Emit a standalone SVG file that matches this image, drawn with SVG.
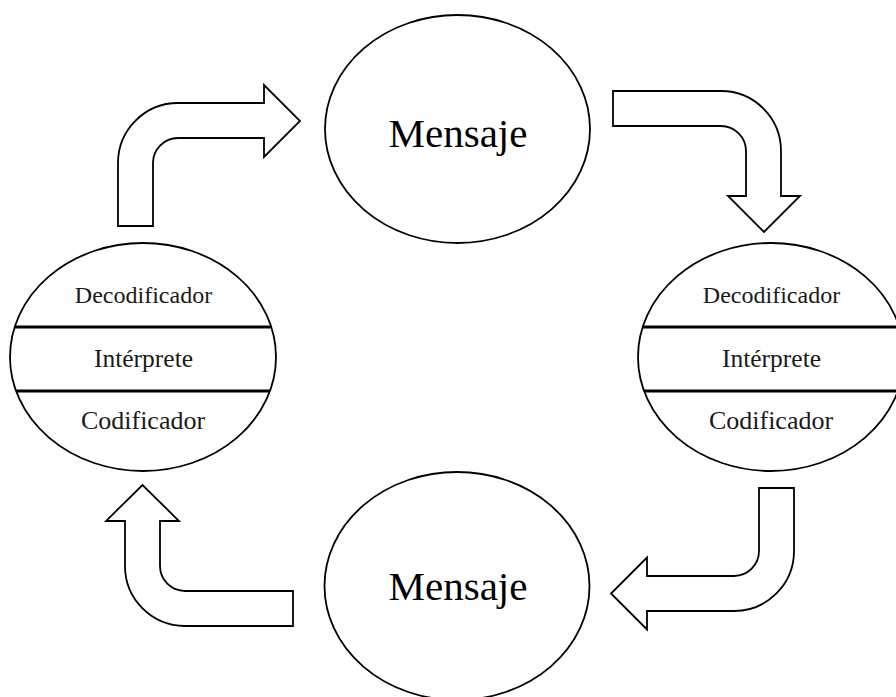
<svg xmlns="http://www.w3.org/2000/svg" width="896" height="697" viewBox="0 0 896 697">
  <style>
    .bg { fill: #ffffff; }
    .node { fill: #ffffff; stroke: #000000; stroke-width: 1.8; }
    .divider { stroke: #000000; stroke-width: 3; }
    .arrow { fill: #ffffff; stroke: #000000; stroke-width: 1.8; stroke-linejoin: miter; }
    .big { font-family: "Liberation Serif", "Times New Roman", serif; font-size: 41px; fill: #000000; text-anchor: middle; }
    .small { font-family: "Liberation Serif", "Times New Roman", serif; font-size: 24px; fill: #1a1a1a; text-anchor: middle; }
    .mid { font-size: 25.5px; }
    .low { font-size: 26px; }
  </style>
  <rect class="bg" x="0" y="0" width="896" height="697"/>

  <!-- Connectors: wide bent block arrows -->
  <g id="connectors">
    <path class="arrow" d="M118,226 L118,163 A60,60 0 0 1 178,103 L264,103 L264,85 L300,121 L264,157 L264,138 L178,138 A25,25 0 0 0 153,163 L153,226 Z"/>
    <path class="arrow" d="M613,91 L721,91 A60,60 0 0 1 781,151 L781,196 L800,196 L764,232 L728,196 L746,196 L746,151 A25,25 0 0 0 721,126 L613,126 Z"/>
    <path class="arrow" d="M759,488 L794,488 L794,551 A60,60 0 0 1 734,611 L647,611 L647,629.5 L611,593.5 L647,557.5 L647,576 L734,576 A25,25 0 0 0 759,551 Z"/>
    <path class="arrow" d="M293,626 L185,626 A60,60 0 0 1 125,566 L125,521 L106,521 L142.5,485 L179,521 L160,521 L160,566 A25,25 0 0 0 185,591 L293,591 Z"/>
  </g>

  <!-- Message (top) -->
  <g id="mensaje-top">
    <ellipse class="node" cx="457.5" cy="129" rx="132.5" ry="114"/>
    <text class="big" x="458" y="147">Mensaje</text>
  </g>

  <!-- Message (bottom) -->
  <g id="mensaje-bottom">
    <ellipse class="node" cx="457" cy="586" rx="132.5" ry="114"/>
    <text class="big" x="458" y="600">Mensaje</text>
  </g>

  <!-- Participant (left) -->
  <g id="participante-izq">
    <ellipse class="node" cx="143" cy="357" rx="133" ry="114"/>
    <line class="divider" x1="14.7" y1="327" x2="271.3" y2="327"/>
    <line class="divider" x1="16" y1="391" x2="270" y2="391"/>
    <text class="small" x="143.5" y="303">Decodificador</text>
    <text class="small mid" x="143.5" y="367">Intérprete</text>
    <text class="small low" x="143" y="429">Codificador</text>
  </g>

  <!-- Participant (right) -->
  <g id="participante-der">
    <ellipse class="node" cx="771" cy="357" rx="133" ry="114"/>
    <line class="divider" x1="642.7" y1="327" x2="899" y2="327"/>
    <line class="divider" x1="644" y1="391" x2="898" y2="391"/>
    <text class="small" x="771.5" y="303">Decodificador</text>
    <text class="small mid" x="771.5" y="367">Intérprete</text>
    <text class="small low" x="771" y="429">Codificador</text>
  </g>
</svg>
